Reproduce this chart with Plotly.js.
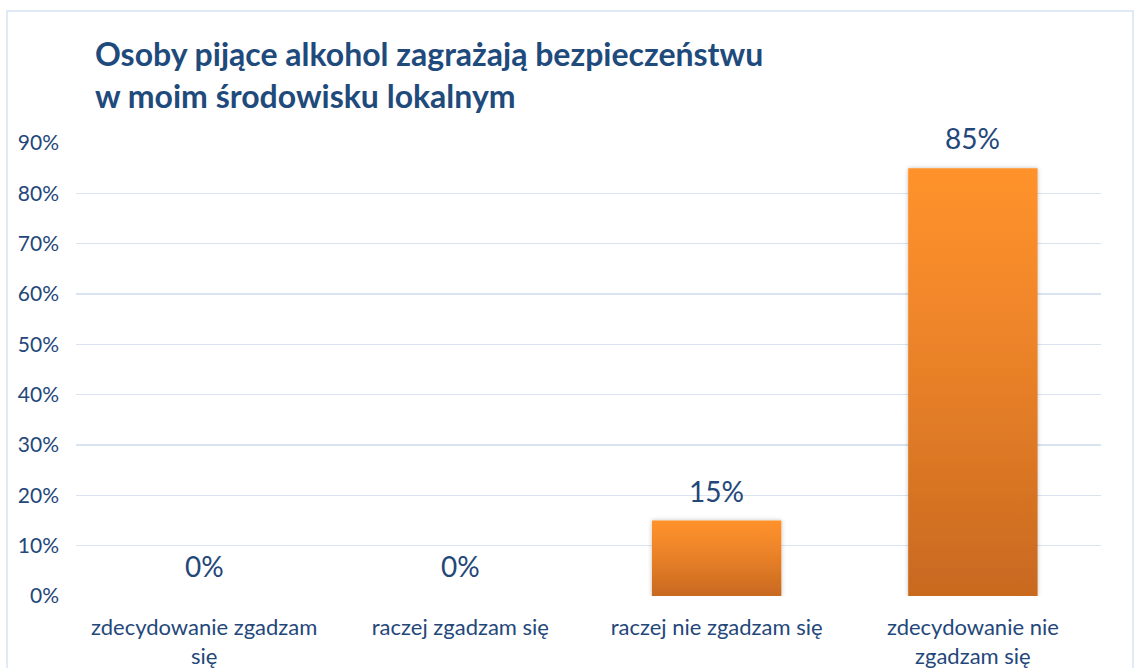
<!DOCTYPE html>
<html>
<head>
<meta charset="utf-8">
<script src="https://cdn.plot.ly/plotly-3.0.1.min.js"></script>
<style>
html,body{margin:0;padding:0;background:#fff;}
#chart{width:1135px;height:668px;}
</style>
</head>
<body>
<div id="chart"></div>
<script>
const categories = ['zdecydowanie zgadzam<br>się', 'raczej zgadzam się', 'raczej nie zgadzam się', 'zdecydowanie nie<br>zgadzam się'];
const values = [0, 0, 0.15, 0.85];
const labels = ['0%', '0%', '15%', '85%'];
const tickVals = [0, 0.1, 0.2, 0.3, 0.4, 0.5, 0.6, 0.7, 0.8, 0.9];
const tickText = ['0%', '10%', '20%', '30%', '40%', '50%', '60%', '70%', '80%', '90%'];
const titleText = 'Osoby pijące alkohol zagrażają bezpieczeństwu<br>w moim środowisku lokalnym';

const W = 1135, H = 668;
const mL = 76, mR = W - 1101, mT = 143, mB = H - 596;
const pw = W - mL - mR, ph = H - mT - mB;
const px = v => (v - mL) / pw;
const py = v => (H - mB - v) / ph;

const textColor = '#24477a';
const font = 'Lato, "Open Sans", sans-serif';

const trace = {
  type: 'bar',
  x: categories,
  y: values,
  marker: {color: '#f08424', line: {width: 0}},
  hoverinfo: 'none',
  width: 0.505
};

const annotations = categories.map((c, i) => ({
  x: c, y: values[i], xref: 'x', yref: 'y',
  text: labels[i], showarrow: false,
  yanchor: 'bottom', yshift: 11,
  font: {family: font, size: 28, color: textColor}
}));

const layout = {
  width: W, height: H,
  margin: {l: mL, r: mR, t: mT, b: mB, pad: 0},
  paper_bgcolor: '#ffffff',
  plot_bgcolor: '#ffffff',
  showlegend: false,
  title: {
    text: titleText,
    xref: 'container', yref: 'container',
    x: 95 / W, xanchor: 'left',
    y: 1 - 66 / H, yanchor: 'top',
    font: {family: font, size: 32, color: '#1f4a7c', weight: 'bold'}
  },
  xaxis: {
    type: 'category',
    showgrid: false, zeroline: false, showline: false,
    ticks: '', ticklabelstandoff: 16,
    tickfont: {family: font, size: 22, color: textColor}
  },
  yaxis: {
    range: [0, 0.9],
    tickvals: tickVals, ticktext: tickText,
    showgrid: true, gridcolor: '#d9e3f1', gridwidth: 1.5,
    zeroline: false, showline: false, ticks: '',
    ticklabelstandoff: 16,
    tickfont: {family: font, size: 21, color: textColor}
  },
  bargap: 0.495,
  annotations: annotations,
  shapes: [{
    type: 'rect', xref: 'paper', yref: 'paper',
    x0: px(7), x1: px(1133), y0: py(720), y1: py(11),
    line: {color: '#d6e3f5', width: 1.5}, fillcolor: 'rgba(0,0,0,0)', layer: 'below'
  }]
};

Plotly.newPlot('chart', [trace], layout, {displayModeBar: false, staticPlot: true}).then(gd => {
  const svg = gd.querySelector('svg.main-svg');
  const ns = 'http://www.w3.org/2000/svg';
  let defs = svg.querySelector('defs');
  if (!defs) { defs = document.createElementNS(ns, 'defs'); svg.insertBefore(defs, svg.firstChild); }
  const grad = document.createElementNS(ns, 'linearGradient');
  grad.setAttribute('id', 'barGrad');
  grad.setAttribute('x1', '0'); grad.setAttribute('y1', '0');
  grad.setAttribute('x2', '0'); grad.setAttribute('y2', '1');
  [['0', '#ff922b'], ['0.35', '#f0862a'], ['1', '#c8691f']].forEach(([o, c]) => {
    const s = document.createElementNS(ns, 'stop');
    s.setAttribute('offset', o); s.setAttribute('stop-color', c);
    grad.appendChild(s);
  });
  defs.appendChild(grad);
  const filt = document.createElementNS(ns, 'filter');
  filt.setAttribute('id', 'barShadow');
  filt.setAttribute('x', '-10%'); filt.setAttribute('y', '-10%');
  filt.setAttribute('width', '120%'); filt.setAttribute('height', '120%');
  const ds = document.createElementNS(ns, 'feDropShadow');
  ds.setAttribute('dx', '0'); ds.setAttribute('dy', '0');
  ds.setAttribute('stdDeviation', '2'); ds.setAttribute('flood-color', '#000');
  ds.setAttribute('flood-opacity', '0.25');
  filt.appendChild(ds);
  defs.appendChild(filt);
  gd.querySelectorAll('.barlayer .point path').forEach(p => {
    p.style.fill = 'url(#barGrad)';
    p.setAttribute('filter', 'url(#barShadow)');
  });
});
</script>
</body>
</html>
